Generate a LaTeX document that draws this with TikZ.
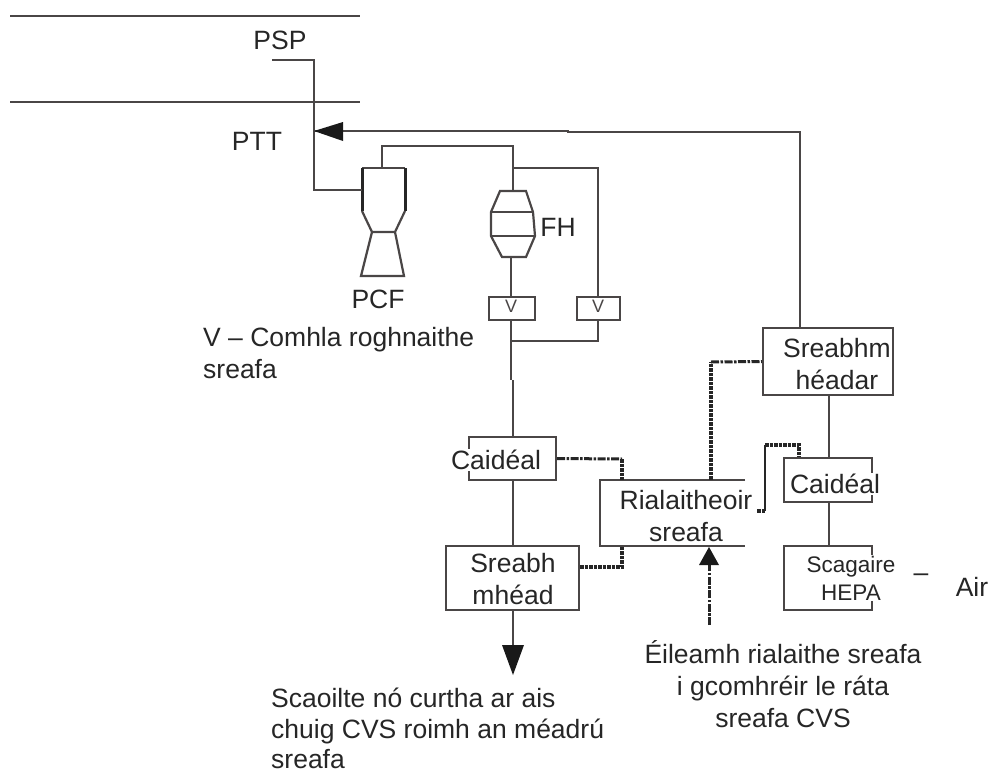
\documentclass[tikz,border=0pt]{standalone}
\usepackage{fontspec}
\setmainfont{Liberation Sans}
\usetikzlibrary{calc}
\definecolor{linegray}{HTML}{4A4646}
\tikzset{
    pipe/.style={line width=2.2pt,color=linegray},
    signal/.style={line width=3pt,color=black!85,dash pattern=on 8pt off 1.5pt on 2.5pt off 1.5pt},
    sigdots/.style={line width=3.6pt,color=black!85,dash pattern=on 3.5pt off 1pt},
    box/.style={draw=linegray,line width=2.2pt,inner sep=0pt},
    lab/.style={font=\fontsize{26.5}{32}\selectfont,text=black!85,inner sep=0pt},
    over/.style={lab,fill=white,inner sep=1pt},
    txt/.style={lab,align=left,anchor=base west},
    vmark/.style={font=\fontsize{18}{20}\selectfont,text=linegray,inner sep=0pt}
}
\begin{document}
\begin{tikzpicture}[x=1pt,y=-1pt]
\useasboundingbox (0,0) rectangle (994,771);

% ducts
\coordinate (D1a) at (10,16);
\coordinate (D1b) at (360,16);
\coordinate (D2a) at (10,102);
\coordinate (D2b) at (360,102);
\draw[pipe] (D1a) -- (D1b);
\draw[pipe] (D2a) -- (D2b);

\node[lab] (PSP) at (280,40) {PSP};
\node[lab] (PTT) at (257,141) {PTT};
\node[lab] (PCF) at (378,299) {PCF};
\node[lab] (FH) at (558,227) {FH};

% boxes
\node[box,minimum width=46pt,minimum height=23pt] (V1) at (512,308.5) {};
\node[box,minimum width=43pt,minimum height=23pt] (V2) at (598.5,308.5) {};
\node[vmark] (V1t) at (511,306) {V};
\node[vmark] (V2t) at (598,306) {V};
\node[box,minimum width=87pt,minimum height=43pt] (CD1) at (512.5,458.5) {};
\node[over] (CD1t) at (496,460) {Caidéal};
\node[box,minimum width=133pt,minimum height=64pt] (SM) at (512.5,578) {};
\node[lab,align=center] (SMt) at (513,579) {Sreabh\\mhéad};
\node[minimum width=145pt,minimum height=66pt,inner sep=0pt] (RL) at (672.5,513) {};
\node[lab,align=center] (RLt) at (686,516) {Rialaitheoir\\sreafa};
\node[box,minimum width=130pt,minimum height=67pt] (SH) at (828,361.5) {};
\node[lab,align=center] (SHt) at (837,364) {Sreabhm\\héadar};
\node[box,minimum width=88pt,minimum height=44pt] (CD2) at (828,480) {};
\node[over] (CD2t) at (835,484) {Caidéal};
\node[box,minimum width=88pt,minimum height=64pt] (HE) at (828,578) {};
\node[over,font=\fontsize{22.5}{28}\selectfont,align=center] (HEt) at (851,578) {Scagaire\\HEPA};
\node[lab] (DS) at (921,578) {--};
\node[lab] (AIR) at (972,587) {Air};

\draw[pipe] (RL.north east) -- (RL.north west) -- (RL.south west) -- (RL.south east);

% fan housing
\coordinate (F1) at (500,191);
\coordinate (F2) at (526,191);
\coordinate (F3) at (533,212);
\coordinate (F4) at (535,236);
\coordinate (F5) at (526,257);
\coordinate (F6) at (502,257);
\coordinate (F7) at (491,236);
\coordinate (F8) at (491,212);
\draw[pipe] (F1) -- (F2) -- (F3) -- (F4) -- (F5) -- (F6) -- (F7) -- (F8) -- cycle;
\draw[pipe] (F8) -- (F3);
\draw[pipe] (F7) -- (F4);

% pump
\coordinate (P1) at (362,168);
\coordinate (P2) at (405,168);
\coordinate (P3) at (362,211);
\coordinate (P4) at (405,211);
\coordinate (P5) at (372,232);
\coordinate (P6) at (395,232);
\coordinate (P7) at (361,276);
\coordinate (P8) at (404,276);
\draw[pipe] (P1) -- (P2);
\draw[line width=3pt,color=black!85] (P1) -- (P3);
\draw[line width=3pt,color=black!85] (P2) -- (P4);
\draw[pipe] (P3) -- (P5) -- (P6) -- (P4);
\draw[pipe] (P5) -- (P7) -- (P8) -- (P6);

% pipes
\coordinate (PSPa) at (272,60);
\coordinate (PSPb) at (314,60);
\coordinate (PSPc) at (314,190);
\coordinate (PCFin) at (362,190);
\draw[pipe] (PSPa) -- (PSPb) -- (PSPc) -- (PCFin);
\coordinate (PCFout) at (382,168);
\coordinate (PCFup) at (382,146);
\coordinate (FHup) at (513,146);
\coordinate (FHj) at (513,168);
\coordinate (FHin) at (513,191);
\draw[pipe] (PCFout) -- (PCFup) -- (FHup) -- (FHin);
\coordinate (V2up) at (598,168);
\draw[pipe] (FHj) -- (V2up) -- (V2.north -| V2up);
\coordinate (V1j) at (511,341);
\coordinate (V2dn) at (598,341);
\draw[pipe] (F6 -| V1j) -- (V1.north -| V1j);
\draw[pipe] (V1.south -| V1j) -- (V1j) -- (V2dn) -- (V2.south -| V2dn);
\coordinate (CDa) at (511,380);
\coordinate (CDb) at (513,380);
\draw[pipe] (V1j) -- (CDa);
\draw[pipe] (CDb) -- (CD1.north -| CDb);
\draw[pipe] (CD1.south -| CDb) -- (SM.north -| CDb);
\coordinate (OUT) at (513,675);
\coordinate (OUTb) at (513,645);
\draw[pipe] (SM.south -| OUT) -- (OUTb);
\fill[black!90] (OUT) -- (524,645) -- (502,645) -- cycle;
\coordinate (HEx) at (829,500);
\draw[pipe] (SH.south -| HEx) -- (CD2.north -| HEx);
\draw[pipe] (CD2.south -| HEx) -- (HE.north -| HEx);

% return line
\coordinate (PTTin) at (314,131);
\coordinate (RTa) at (568,131);
\coordinate (RTb) at (568,132);
\coordinate (RTc) at (800,132);
\draw[pipe] (SH.north -| RTc) -- (RTc) -- (RTb) -- (RTa) -- (PTTin);
\fill[black!90] (PTTin) -- (343,122) -- (343,141) -- cycle;

% control signals
\coordinate (SG1) at (622,459);
\draw[signal] (CD1.east) -- (SG1);
\draw[sigdots] (SG1) -- (SG1 |- RL.north);
\coordinate (SG2) at (622,567);
\draw[sigdots] (SM.east |- SG2) -- (SG2) -- (SG2 |- RL.south);
\coordinate (SG3) at (711,362);
\draw[sigdots] (SG3 |- RL.north) -- (SG3);
\draw[signal] (SG3) -- (SH.west);
\coordinate (SG4) at (757,511);
\coordinate (SG5) at (765,511);
\coordinate (SG6) at (765,445);
\coordinate (SG7) at (799,445);
\draw[sigdots] (SG4) -- (SG5);
\draw[line width=2.8pt,color=black!85] (SG5) -- (SG6);
\draw[sigdots] (SG6) -- (SG7) -- (SG7 |- CD2.north);
\coordinate (DEM) at (709,625);
\coordinate (DEMt) at (709,547);
\draw[signal] (DEM) -- (709,560);
\fill[black!90] (DEMt) -- (719,565) -- (699,565) -- cycle;

% texts
\node[txt] (VN1) at (203,346) {V – Comhla roghnaithe};
\node[txt] (VN2) at (203,378) {sreafa};
\node[lab,align=center] (EL) at (783,684) {Éileamh rialaithe sreafa\\i gcomhréir le ráta\\sreafa CVS};
\node[txt] (SC1) at (271,707) {Scaoilte nó curtha ar ais};
\node[txt] (SC2) at (271,738) {chuig CVS roimh an méadrú};
\node[txt] (SC3) at (271,768) {sreafa};
\end{tikzpicture}
\end{document}
